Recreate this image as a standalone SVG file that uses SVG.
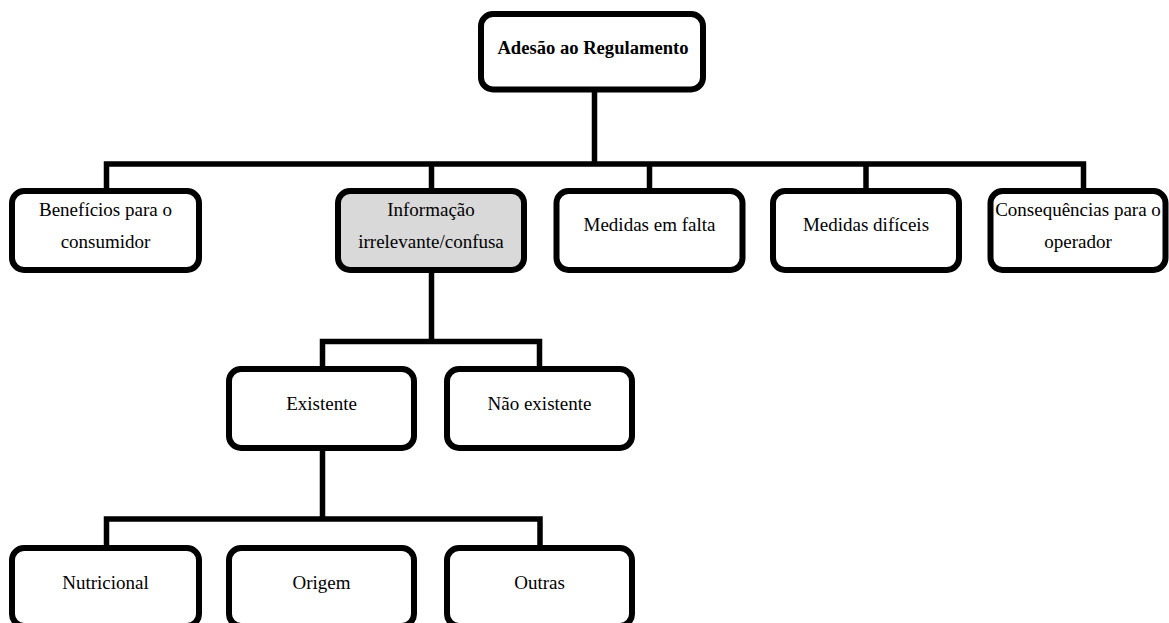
<svg xmlns="http://www.w3.org/2000/svg" width="1169" height="623" viewBox="0 0 1169 623">
  <style>
    .box { fill: #ffffff; stroke: #000000; stroke-width: 6; }
    .hl { fill: #d9d9d9; }
    .wire { fill: none; stroke: #000000; stroke-width: 5.5; stroke-linejoin: miter; stroke-linecap: butt; }
    .lbl { font-family: "Liberation Serif", "Times New Roman", serif; font-size: 19px; fill: #000000; text-anchor: middle; }
    .title { font-weight: bold; font-size: 18.6px; }
  </style>
  <rect width="1169" height="623" fill="#ffffff"/>

  <g id="connectors">
    <!-- root to first level -->
    <path class="wire" d="M594.5 92 V164"/>
    <path class="wire" d="M106.5 188 V164 H1083.5 V188"/>
    <path class="wire" d="M431.5 164 V188"/>
    <path class="wire" d="M649.5 164 V188"/>
    <path class="wire" d="M866 164 V188"/>
    <!-- Informação to its children -->
    <path class="wire" d="M431.5 273 V341.5"/>
    <path class="wire" d="M322.5 366 V341.5 H539.5 V366"/>
    <!-- Existente to its children -->
    <path class="wire" d="M322.5 451 V519"/>
    <path class="wire" d="M106.5 545 V519 H540 V545"/>
  </g>

  <g id="node-root">
    <rect class="box" x="481" y="14" width="222" height="75.5" rx="12"/>
    <text class="lbl title" x="593" y="54">Adesão ao Regulamento</text>
  </g>

  <g id="node-beneficios">
    <rect class="box" x="12" y="191" width="187" height="79" rx="12"/>
    <text class="lbl" x="105.5" y="216">Benefícios para o</text>
    <text class="lbl" x="105.5" y="248">consumidor</text>
  </g>

  <g id="node-informacao">
    <rect class="box hl" x="338" y="191" width="186" height="79" rx="12"/>
    <text class="lbl" x="431" y="216">Informação</text>
    <text class="lbl" x="431" y="248">irrelevante/confusa</text>
  </g>

  <g id="node-medidas-falta">
    <rect class="box" x="556.5" y="191" width="186" height="79" rx="12"/>
    <text class="lbl" x="649.5" y="231">Medidas em falta</text>
  </g>

  <g id="node-medidas-dificeis">
    <rect class="box" x="773" y="191" width="186" height="79" rx="12"/>
    <text class="lbl" x="866" y="231">Medidas difíceis</text>
  </g>

  <g id="node-consequencias">
    <rect class="box" x="990.5" y="191" width="175" height="79" rx="12"/>
    <text class="lbl" x="1078" y="216">Consequências para o</text>
    <text class="lbl" x="1078" y="248">operador</text>
  </g>

  <g id="node-existente">
    <rect class="box" x="229" y="369" width="185" height="79" rx="12"/>
    <text class="lbl" x="321.5" y="410">Existente</text>
  </g>

  <g id="node-nao-existente">
    <rect class="box" x="447" y="369" width="185" height="79" rx="12"/>
    <text class="lbl" x="539.5" y="410">Não existente</text>
  </g>

  <g id="node-nutricional">
    <rect class="box" x="12" y="548" width="187" height="78" rx="12"/>
    <text class="lbl" x="105.5" y="589">Nutricional</text>
  </g>

  <g id="node-origem">
    <rect class="box" x="229" y="548" width="185" height="78" rx="12"/>
    <text class="lbl" x="321.5" y="589">Origem</text>
  </g>

  <g id="node-outras">
    <rect class="box" x="447" y="548" width="185" height="78" rx="12"/>
    <text class="lbl" x="539.5" y="589">Outras</text>
  </g>
</svg>
